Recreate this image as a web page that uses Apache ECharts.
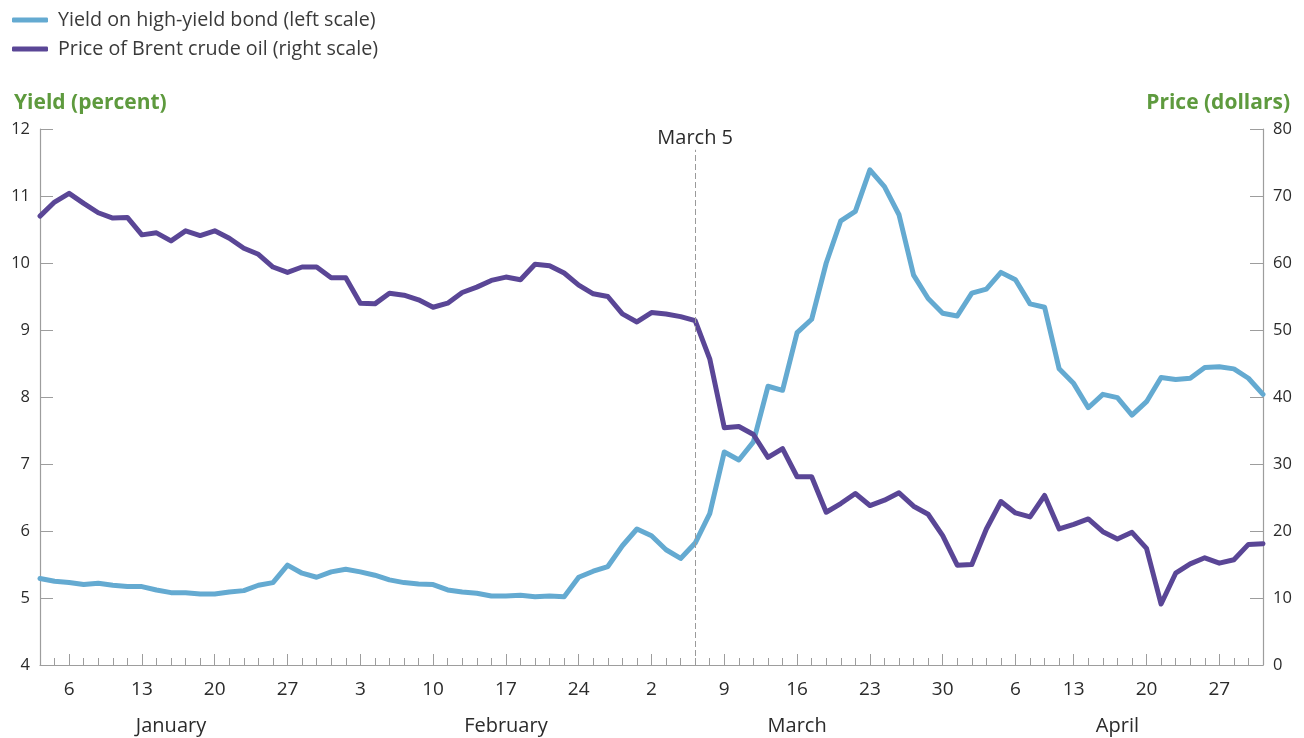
<!DOCTYPE html>
<html><head><meta charset="utf-8">
<script src="https://cdn.jsdelivr.net/npm/echarts@6/dist/echarts.min.js"></script>
<style>html,body{margin:0;padding:0;background:#fff}#c{width:1304px;height:738px}</style>
</head><body><div id="c"></div>
<script>
// Trading days, 2020 (M/D)
const dates = [
  '1/2','1/3','1/6','1/7','1/8','1/9','1/10','1/13','1/14','1/15','1/16','1/17','1/20','1/21','1/22','1/23','1/24','1/27','1/28','1/29','1/30','1/31',
  '2/3','2/4','2/5','2/6','2/7','2/10','2/11','2/12','2/13','2/14','2/17','2/18','2/19','2/20','2/21','2/24','2/25','2/26','2/27','2/28',
  '3/2','3/3','3/4','3/5','3/6','3/9','3/10','3/11','3/12','3/13','3/16','3/17','3/18','3/19','3/20','3/23','3/24','3/25','3/26','3/27','3/30','3/31',
  '4/1','4/2','4/3','4/6','4/7','4/8','4/9','4/13','4/14','4/15','4/16','4/17','4/20','4/21','4/22','4/23','4/24','4/27','4/28','4/29','4/30'
];
// Yield on high-yield bond, percent (left scale)
const yieldPct = [
  5.29,5.25,5.23,5.20,5.22,5.19,5.17,5.17,5.12,5.08,5.08,5.06,5.06,5.09,5.11,5.19,5.23,5.49,5.37,5.31,5.39,5.43,
  5.39,5.34,5.27,5.23,5.21,5.20,5.12,5.09,5.07,5.03,5.03,5.04,5.02,5.03,5.02,5.31,5.40,5.47,5.78,6.03,
  5.93,5.72,5.59,5.82,6.26,7.18,7.06,7.33,8.16,8.10,8.96,9.16,10.00,10.63,10.77,11.39,11.14,10.72,9.82,9.47,9.25,9.21,
  9.55,9.61,9.86,9.75,9.39,9.34,8.42,8.20,7.84,8.04,7.99,7.73,7.93,8.29,8.26,8.28,8.44,8.45,8.42,8.28,8.04
];
// Price of Brent crude oil, dollars (right scale)
const brentPrice = [
  67.0,69.1,70.4,68.9,67.5,66.7,66.8,64.2,64.5,63.3,64.8,64.1,64.8,63.7,62.2,61.3,59.4,58.6,59.4,59.4,57.8,57.8,
  54.0,53.9,55.5,55.2,54.5,53.4,54.0,55.6,56.4,57.4,57.9,57.5,59.8,59.6,58.5,56.7,55.4,55.0,52.4,51.2,
  52.6,52.4,52.0,51.4,45.7,35.4,35.6,34.4,31.0,32.3,28.1,28.1,22.8,24.1,25.6,23.8,24.6,25.7,23.7,22.5,19.3,14.9,
  15.0,20.3,24.4,22.7,22.1,25.3,20.3,21.0,21.8,19.9,18.8,19.8,17.4,9.1,13.7,15.1,16.0,15.2,15.7,18.0,18.1
];
// Weekly (Monday) tick labels
const weekTicks = ['1/6','1/13','1/20','1/27','2/3','2/10','2/17','2/24','3/2','3/9','3/16','3/23','3/30','4/6','4/13','4/20','4/27'];
// Month labels and the day each is centred under
const monthNames = ['January','February','March','April'];
const monthAnchors = ['1/15','2/17','3/16','4/16'];
const eventDate = '3/5';
const eventLabel = 'March 5';
const seriesNames = ['Yield on high-yield bond (left scale)','Price of Brent crude oil (right scale)'];

const FONT = 'Open Sans';
const AX = '#9d9d9d';
const TXT = '#2b2b2b';
const GREEN = '#5e9a3e';
const BLUE = '#64aad1';
const PURPLE = '#5a4696';

const isWeek = (i, v) => weekTicks.indexOf(v) >= 0;
const isMonth = (i, v) => monthAnchors.indexOf(v) >= 0;

const chart = echarts.init(document.getElementById('c'));
chart.setOption({
  animation: false,
  textStyle: { fontFamily: FONT },
  title: [
    { text: 'Yield (percent)', left: 9, top: 88,
      textStyle: { fontFamily: FONT, fontSize: 21, fontWeight: 'bold', color: GREEN } },
    { text: 'Price (dollars)', right: 9, top: 88,
      textStyle: { fontFamily: FONT, fontSize: 21, fontWeight: 'bold', color: GREEN } }
  ],
  legend: {
    orient: 'vertical', left: 7, top: 5, itemWidth: 36, itemHeight: 5, itemGap: 9,
    icon: 'roundRect', data: seriesNames,
    textStyle: { fontFamily: FONT, fontSize: 19.7, color: '#3a3a3a', padding: [0, 0, 0, 5] }
  },
  grid: { left: 40, right: 41, top: 129, bottom: 73, containLabel: false },
  xAxis: [
    { type: 'category', data: dates, boundaryGap: false,
      axisLine: { lineStyle: { color: AX, width: 1.2 } },
      axisTick: { inside: true, length: 7, interval: 0, lineStyle: { color: AX } },
      axisLabel: { show: false }, splitLine: { show: false } },
    { type: 'category', data: dates, boundaryGap: false, position: 'bottom',
      axisLine: { show: false },
      axisTick: { inside: true, length: 11, interval: isWeek, lineStyle: { color: AX } },
      axisLabel: { interval: isWeek, formatter: v => v.split('/')[1],
        fontFamily: FONT, fontSize: 19, color: TXT, margin: 15 },
      splitLine: { show: false } },
    { type: 'category', data: dates, boundaryGap: false, position: 'bottom',
      axisLine: { show: false }, axisTick: { show: false },
      axisLabel: { interval: isMonth, formatter: v => monthNames[monthAnchors.indexOf(v)],
        fontFamily: FONT, fontSize: 20, color: TXT, margin: 51 },
      splitLine: { show: false } }
  ],
  yAxis: [
    { type: 'value', min: 4, max: 12, interval: 1, position: 'left',
      axisLine: { show: true, lineStyle: { color: AX, width: 1.2 } },
      axisTick: { show: true, inside: true, length: 13, lineStyle: { color: AX } },
      axisLabel: { fontFamily: FONT, fontSize: 16.5, color: TXT, margin: 10 },
      splitLine: { show: false } },
    { type: 'value', min: 0, max: 80, interval: 10, position: 'right',
      axisLine: { show: true, lineStyle: { color: AX, width: 1.2 } },
      axisTick: { show: true, inside: true, length: 13, lineStyle: { color: AX } },
      axisLabel: { fontFamily: FONT, fontSize: 16.5, color: TXT, margin: 10 },
      splitLine: { show: false } }
  ],
  series: [
    { name: seriesNames[0], type: 'line', data: yieldPct, xAxisIndex: 0, yAxisIndex: 0,
      symbol: 'none', lineStyle: { width: 5, color: BLUE, join: 'round', cap: 'round' },
      itemStyle: { color: BLUE },
      markLine: {
        silent: true, symbol: ['none', 'none'], animation: false,
        lineStyle: { type: [6, 3], color: '#9a9a9a', width: 1 },
        label: { show: true, position: 'end', formatter: eventLabel, distance: 1,
          fontFamily: FONT, fontSize: 20, color: TXT },
        data: [[{ xAxis: eventDate, yAxis: 4 }, { xAxis: eventDate, yAxis: 11.69 }]]
      } },
    { name: seriesNames[1], type: 'line', data: brentPrice, xAxisIndex: 0, yAxisIndex: 1,
      symbol: 'none', lineStyle: { width: 5, color: PURPLE, join: 'round', cap: 'round' },
      itemStyle: { color: PURPLE } }
  ]
});
</script>
</body></html>
